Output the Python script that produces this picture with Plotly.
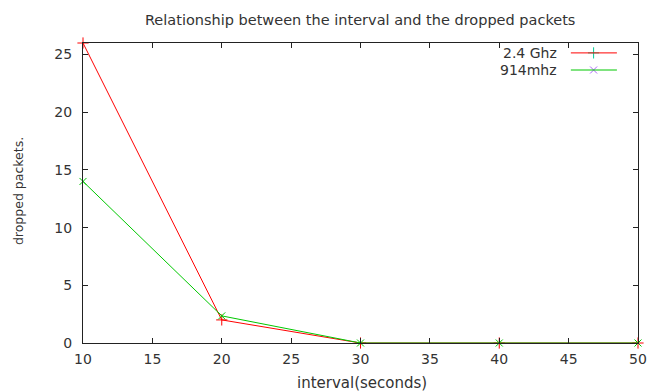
import plotly.graph_objects as go

intervals = [10, 20, 30, 40, 50]
ghz24 = [26, 2, 0, 0, 0]
mhz914 = [14, 2.35, 0, 0, 0]
series_names = ["2.4 Ghz", "914mhz"]
series_colors = ["#ff0000", "#00c800"]
series_symbols = ["cross-thin-open", "x-thin-open"]
x_ticks = [10, 15, 20, 25, 30, 35, 40, 45, 50]
y_ticks = [0, 5, 10, 15, 20, 25]

FONT = "DejaVu Sans, sans-serif"
TXT = "#333333"

fig = go.Figure()
series = [ghz24, mhz914]
for i, vals in enumerate(series):
    fig.add_trace(go.Scatter(x=intervals, y=vals, mode="lines+markers", name=series_names[i],
                             line=dict(color=series_colors[i], width=1),
                             marker=dict(symbol=series_symbols[i], size=8 if i == 0 else 7,
                                         line=dict(color=series_colors[i], width=1)),
                             cliponaxis=False, showlegend=False))

# gnuplot-style key: label on the left, sample line (with its point) on the right
key_y = [0.967, 0.91]
for i in range(2):
    fig.add_annotation(xref="paper", yref="paper", x=0.858, y=key_y[i], text=series_names[i],
                       showarrow=False, xanchor="right", yanchor="middle",
                       font=dict(family=FONT, size=14, color=TXT))
    fig.add_shape(type="line", xref="paper", yref="paper", x0=0.879, x1=0.962,
                  y0=key_y[i], y1=key_y[i], line=dict(color=series_colors[i], width=1))
    fig.add_trace(go.Scatter(x=[0.92], y=[key_y[i]], xaxis="x2", yaxis="y2", mode="markers",
                             marker=dict(symbol=series_symbols[i], size=8 if i == 0 else 7,
                                         line=dict(color=series_colors[i], width=1)),
                             showlegend=False, hoverinfo="skip", cliponaxis=False))

axis_common = dict(showgrid=False, zeroline=False, showline=True, linecolor="#222",
                   linewidth=1, mirror="ticks", ticks="inside", ticklen=5,
                   tickcolor="#222", automargin=False,
                   tickfont=dict(family=FONT, size=14, color=TXT))

fig.update_layout(
    width=649, height=392,
    margin=dict(l=83, r=11, t=43, b=49),
    paper_bgcolor="white", plot_bgcolor="white",
    xaxis=dict(range=[10, 50], tickvals=x_ticks, ticklabelstandoff=3, **axis_common),
    yaxis=dict(range=[0, 26], tickvals=y_ticks, ticklabelstandoff=7, **axis_common),
    xaxis2=dict(range=[0, 1], overlaying="x", visible=False),
    yaxis2=dict(range=[0, 1], overlaying="y", visible=False),
    title=dict(text="Relationship between the interval and the dropped packets",
               x=0.555, xanchor="center", y=0.95, yanchor="middle",
               font=dict(family=FONT, size=14.5, color=TXT)),
)

fig.add_annotation(xref="paper", yref="paper", x=0.503, y=-0.133, text="interval(seconds)",
                   showarrow=False, xanchor="center", yanchor="middle",
                   font=dict(family=FONT, size=15, color=TXT))
fig.add_annotation(xref="paper", yref="paper", x=-0.115, y=0.507, text="dropped packets.",
                   showarrow=False, xanchor="center", yanchor="middle", textangle=-90,
                   font=dict(family=FONT, size=12.5, color=TXT))

fig.write_html("out.html", config={"displayModeBar": False},
               post_script="document.body.style.margin='0';document.body.style.overflow='hidden';")
